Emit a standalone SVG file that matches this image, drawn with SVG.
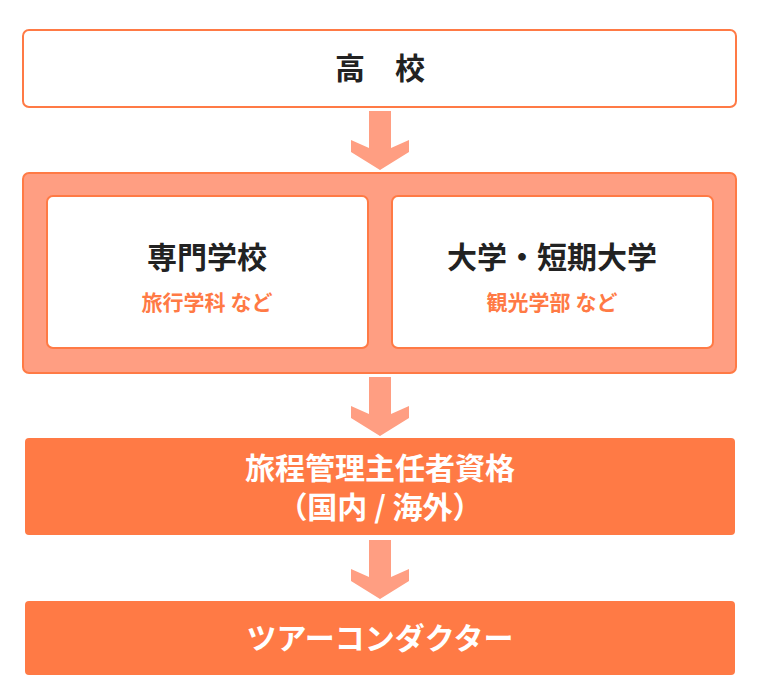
<svg xmlns="http://www.w3.org/2000/svg" width="760" height="700" viewBox="0 0 760 700">
<style>
text{font-family:"Noto Sans CJK JP","Noto Sans",sans-serif;font-weight:bold;text-anchor:middle}
.t{font-size:30px;fill:#222}
.s{font-size:21px;fill:#ff7a45}
.w{font-size:30px;fill:#fff}
.arr{fill:#ff9e82}
</style>
<defs><polygon id="a" points="-11,0 11,0 11,37 29,29 29,41 0,59 -29,41 -29,29 -11,37"/></defs>
<g id="connectors">
<use href="#a" class="arr" x="380" y="111"/>
<use href="#a" class="arr" x="380" y="377"/>
<use href="#a" class="arr" x="380" y="540"/>
</g>
<g id="highschool"><rect x="23" y="30" width="713" height="77" rx="6" fill="#fff" stroke="#ff7a45" stroke-width="2"/><text class="t" x="380" y="79">高　校</text></g>
<g id="schools"><rect x="23" y="173" width="713" height="200" rx="6" fill="#ff9e82" stroke="#ff7a45" stroke-width="2"/>
<g id="senmon"><rect x="47" y="196" width="321" height="152" rx="6" fill="#fff" stroke="#ff7a45" stroke-width="2"/><text class="t" x="207" y="268">専門学校</text><text class="s" x="207" y="310">旅行学科 など</text></g>
<g id="daigaku"><rect x="392" y="196" width="321" height="152" rx="6" fill="#fff" stroke="#ff7a45" stroke-width="2"/><text class="t" x="552" y="268">大学・短期大学</text><text class="s" x="552" y="310">観光学部 など</text></g>
</g>
<g id="shikaku"><rect x="25" y="438" width="710" height="97" rx="4" fill="#ff7a45"/><text class="w" x="380" y="479">旅程管理主任者資格</text><text class="w" x="380" y="518">（国内 / 海外）</text></g>
<g id="tc"><rect x="25" y="601" width="710" height="74" rx="4" fill="#ff7a45"/><text class="w" x="380" y="649">ツアーコンダクター</text></g>
</svg>
